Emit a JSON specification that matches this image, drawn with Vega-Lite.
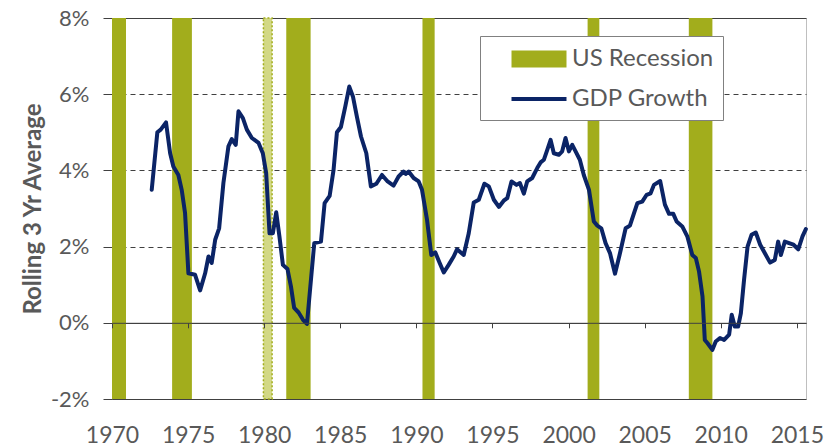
{
  "$schema": "https://vega.github.io/schema/vega-lite/v6.json",
  "width": 694,
  "height": 381,
  "autosize": {"type": "none"},
  "padding": {"left": 112, "top": 18, "right": 28, "bottom": 49},
  "background": "white",
  "config": {"font": "Lato", "view": {"stroke": "#bfbfbf"}},
  "datasets": {
    "recessions": [
      {"start": 1970.0, "end": 1970.92},
      {"start": 1973.95, "end": 1975.25},
      {"start": 1979.95, "end": 1980.52},
      {"start": 1981.45, "end": 1983.05},
      {"start": 1990.4, "end": 1991.2},
      {"start": 2001.25, "end": 2002.02},
      {"start": 2007.9, "end": 2009.45}
    ],
    "gdp": [
      {"year": 1972.61, "value": 3.49},
      {"year": 1972.98, "value": 5.0},
      {"year": 1973.2, "value": 5.07},
      {"year": 1973.55, "value": 5.26},
      {"year": 1973.82, "value": 4.45},
      {"year": 1974.03, "value": 4.1},
      {"year": 1974.36, "value": 3.88},
      {"year": 1974.58, "value": 3.49},
      {"year": 1974.8, "value": 2.88},
      {"year": 1975.02, "value": 1.3},
      {"year": 1975.46, "value": 1.26},
      {"year": 1975.79, "value": 0.85},
      {"year": 1976.12, "value": 1.3},
      {"year": 1976.34, "value": 1.74},
      {"year": 1976.55, "value": 1.57},
      {"year": 1976.78, "value": 2.18},
      {"year": 1977.04, "value": 2.48},
      {"year": 1977.32, "value": 3.67},
      {"year": 1977.65, "value": 4.63},
      {"year": 1977.87, "value": 4.82},
      {"year": 1978.13, "value": 4.67},
      {"year": 1978.31, "value": 5.55},
      {"year": 1978.6, "value": 5.37},
      {"year": 1978.86, "value": 5.07},
      {"year": 1979.19, "value": 4.85},
      {"year": 1979.63, "value": 4.72},
      {"year": 1979.91, "value": 4.45},
      {"year": 1980.13, "value": 3.93},
      {"year": 1980.35, "value": 2.35},
      {"year": 1980.57, "value": 2.35},
      {"year": 1980.79, "value": 2.9},
      {"year": 1981.0, "value": 2.27},
      {"year": 1981.23, "value": 1.52},
      {"year": 1981.53, "value": 1.41},
      {"year": 1981.76, "value": 0.95},
      {"year": 1981.97, "value": 0.39},
      {"year": 1982.26, "value": 0.27},
      {"year": 1982.55, "value": 0.08},
      {"year": 1982.81, "value": -0.03},
      {"year": 1983.29, "value": 2.09},
      {"year": 1983.73, "value": 2.13},
      {"year": 1983.97, "value": 3.14},
      {"year": 1984.3, "value": 3.33},
      {"year": 1984.56, "value": 4.02},
      {"year": 1984.78, "value": 5.0},
      {"year": 1985.04, "value": 5.14},
      {"year": 1985.33, "value": 5.68},
      {"year": 1985.59, "value": 6.2},
      {"year": 1985.83, "value": 5.94},
      {"year": 1986.09, "value": 5.41},
      {"year": 1986.36, "value": 4.89},
      {"year": 1986.71, "value": 4.45},
      {"year": 1987.01, "value": 3.58},
      {"year": 1987.37, "value": 3.65},
      {"year": 1987.74, "value": 3.88},
      {"year": 1988.11, "value": 3.71},
      {"year": 1988.5, "value": 3.6},
      {"year": 1988.83, "value": 3.84},
      {"year": 1989.16, "value": 3.97},
      {"year": 1989.3, "value": 3.91},
      {"year": 1989.49, "value": 3.97},
      {"year": 1989.82, "value": 3.8},
      {"year": 1990.15, "value": 3.71},
      {"year": 1990.37, "value": 3.49},
      {"year": 1990.7, "value": 2.7},
      {"year": 1990.98, "value": 1.78},
      {"year": 1991.24, "value": 1.85},
      {"year": 1991.53, "value": 1.57},
      {"year": 1991.8, "value": 1.32},
      {"year": 1992.12, "value": 1.52},
      {"year": 1992.45, "value": 1.74},
      {"year": 1992.67, "value": 1.93},
      {"year": 1993.11, "value": 1.78},
      {"year": 1993.44, "value": 2.35},
      {"year": 1993.77, "value": 3.16},
      {"year": 1994.1, "value": 3.23},
      {"year": 1994.47, "value": 3.65},
      {"year": 1994.76, "value": 3.58},
      {"year": 1995.09, "value": 3.23},
      {"year": 1995.42, "value": 3.04},
      {"year": 1995.75, "value": 3.21},
      {"year": 1995.97, "value": 3.27},
      {"year": 1996.25, "value": 3.71},
      {"year": 1996.58, "value": 3.62},
      {"year": 1996.8, "value": 3.67},
      {"year": 1997.06, "value": 3.39},
      {"year": 1997.28, "value": 3.71},
      {"year": 1997.61, "value": 3.8},
      {"year": 1997.94, "value": 4.06},
      {"year": 1998.16, "value": 4.21},
      {"year": 1998.38, "value": 4.28},
      {"year": 1998.6, "value": 4.54},
      {"year": 1998.82, "value": 4.8},
      {"year": 1999.03, "value": 4.45},
      {"year": 1999.36, "value": 4.41},
      {"year": 1999.58, "value": 4.5},
      {"year": 1999.8, "value": 4.85},
      {"year": 2000.02, "value": 4.5},
      {"year": 2000.24, "value": 4.67},
      {"year": 2000.46, "value": 4.5},
      {"year": 2000.74, "value": 4.28},
      {"year": 2001.0, "value": 3.88},
      {"year": 2001.34, "value": 3.49},
      {"year": 2001.66, "value": 2.66},
      {"year": 2001.89, "value": 2.55},
      {"year": 2002.15, "value": 2.48},
      {"year": 2002.43, "value": 2.09},
      {"year": 2002.72, "value": 1.83},
      {"year": 2003.05, "value": 1.29},
      {"year": 2003.38, "value": 1.83},
      {"year": 2003.75, "value": 2.48},
      {"year": 2004.03, "value": 2.55},
      {"year": 2004.3, "value": 2.88},
      {"year": 2004.52, "value": 3.14},
      {"year": 2004.84, "value": 3.18},
      {"year": 2005.13, "value": 3.36},
      {"year": 2005.39, "value": 3.4},
      {"year": 2005.61, "value": 3.62},
      {"year": 2006.02, "value": 3.72},
      {"year": 2006.33, "value": 3.1},
      {"year": 2006.6, "value": 2.86},
      {"year": 2006.88, "value": 2.86},
      {"year": 2007.1, "value": 2.66},
      {"year": 2007.47, "value": 2.53},
      {"year": 2007.8, "value": 2.27},
      {"year": 2008.13, "value": 1.78},
      {"year": 2008.36, "value": 1.7},
      {"year": 2008.57, "value": 1.35},
      {"year": 2008.8, "value": 0.69},
      {"year": 2008.95, "value": -0.45},
      {"year": 2009.12, "value": -0.53},
      {"year": 2009.45, "value": -0.71},
      {"year": 2009.67, "value": -0.49},
      {"year": 2009.95, "value": -0.4},
      {"year": 2010.22, "value": -0.45},
      {"year": 2010.55, "value": -0.31},
      {"year": 2010.72, "value": 0.21},
      {"year": 2010.92, "value": -0.1},
      {"year": 2011.14, "value": -0.1},
      {"year": 2011.32, "value": 0.25},
      {"year": 2011.53, "value": 1.13},
      {"year": 2011.76, "value": 2.0},
      {"year": 2012.02, "value": 2.31},
      {"year": 2012.3, "value": 2.37},
      {"year": 2012.59, "value": 2.05},
      {"year": 2012.89, "value": 1.83},
      {"year": 2013.24, "value": 1.58},
      {"year": 2013.55, "value": 1.65},
      {"year": 2013.77, "value": 2.13},
      {"year": 2013.95, "value": 1.78},
      {"year": 2014.21, "value": 2.13},
      {"year": 2014.49, "value": 2.09},
      {"year": 2014.78, "value": 2.05},
      {"year": 2015.09, "value": 1.93},
      {"year": 2015.37, "value": 2.27},
      {"year": 2015.59, "value": 2.46}
    ],
    "legendItems": [
      {"series": "US Recession"},
      {"series": "GDP Growth"}
    ]
  },
  "resolve": {"axis": {"x": "independent"}},
  "layer": [
    {
      "data": {"name": "recessions"},
      "transform": [{"filter": "datum.start < 1979 || datum.start > 1981"}],
      "mark": {"type": "rect", "color": "#A2AD1C"},
      "encoding": {
        "x": {
          "field": "start",
          "type": "quantitative",
          "scale": {"domain": [1970, 2015.6], "nice": false, "zero": false},
          "axis": {
            "orient": "bottom",
            "values": [1970, 1975, 1980, 1985, 1990, 1995, 2000, 2005, 2010, 2015],
            "format": "d",
            "labelFontSize": 23,
            "labelColor": "#595959",
            "labelPadding": 25,
            "labelFlush": false,
            "labelOverlap": false,
            "ticks": false,
            "domain": false,
            "grid": false,
            "title": null
          }
        },
        "x2": {"field": "end"}
      }
    },
    {
      "data": {"name": "recessions"},
      "transform": [{"filter": "datum.start > 1979 && datum.start < 1981"}],
      "mark": {"type": "rect", "fill": "#D2D885", "stroke": "#A2AD1C", "strokeWidth": 1.5, "strokeDash": [2, 2]},
      "encoding": {
        "x": {"field": "start", "type": "quantitative", "axis": null},
        "x2": {"field": "end"}
      }
    },
    {
      "data": {"name": "gdp"},
      "mark": {"type": "line", "color": "#0B2466", "strokeWidth": 4, "strokeJoin": "round", "strokeCap": "round"},
      "encoding": {
        "x": {
          "field": "year",
          "type": "quantitative",
          "axis": {
            "orient": "bottom",
            "offset": -76.2,
            "values": [1970, 1975, 1980, 1985, 1990, 1995, 2000, 2005, 2010, 2015],
            "labels": false,
            "ticks": true,
            "tickSize": 5,
            "tickColor": "#404040",
            "domainColor": "#404040",
            "grid": false,
            "title": null,
            "zindex": 1
          }
        },
        "y": {
          "field": "value",
          "type": "quantitative",
          "scale": {"domain": [-2, 8], "nice": false, "zero": false},
          "axis": {
            "values": [-2, 0, 2, 4, 6, 8],
            "labelExpr": "datum.value + '%'",
            "labelFontSize": 22,
            "labelColor": "#595959",
            "labelPadding": 14,
            "tickSize": 9,
            "tickColor": "#404040",
            "domainColor": "#404040",
            "grid": true,
            "gridColor": "#404040",
            "gridDash": {"condition": {"test": "datum.value == 0 || datum.value == 8 || datum.value == -2", "value": []}, "value": [5, 4]},
            "title": "Rolling 3 Yr Average",
            "titleFontSize": 24,
            "titleFontWeight": "bold",
            "titleColor": "#595959",
            "titlePadding": 5
          }
        }
      }
    },
    {
      "data": {"name": "legendItems"},
      "mark": {"type": "point", "filled": true, "opacity": 0},
      "encoding": {
        "color": {
          "field": "series",
          "type": "nominal",
          "scale": {"domain": ["US Recession", "GDP Growth"], "range": ["#A2AD1C", "#0B2466"]},
          "legend": {
            "title": null,
            "orient": "none",
            "legendX": 368,
            "legendY": 18,
            "fillColor": "white",
            "strokeColor": "#808080",
            "padding": 9,
            "symbolOffset": 36,
            "symbolSize": 756,
            "symbolOpacity": 1,
            "symbolStrokeWidth": 0,
            "labelFontSize": 24,
            "labelColor": "#595959",
            "labelOffset": 19,
            "rowPadding": 14
          }
        },
        "shape": {
          "field": "series",
          "type": "nominal",
          "scale": {"domain": ["US Recession", "GDP Growth"], "range": ["M-2,-0.62H2V0.62H-2Z", "M-2,-0.15H2V0.15H-2Z"]},
          "legend": {
            "title": null,
            "orient": "none",
            "legendX": 368,
            "legendY": 18,
            "fillColor": "white",
            "strokeColor": "#808080",
            "padding": 9,
            "symbolOffset": 36,
            "symbolSize": 756,
            "symbolOpacity": 1,
            "symbolStrokeWidth": 0,
            "labelFontSize": 24,
            "labelColor": "#595959",
            "labelOffset": 19,
            "rowPadding": 14
          }
        }
      }
    }
  ]
}
